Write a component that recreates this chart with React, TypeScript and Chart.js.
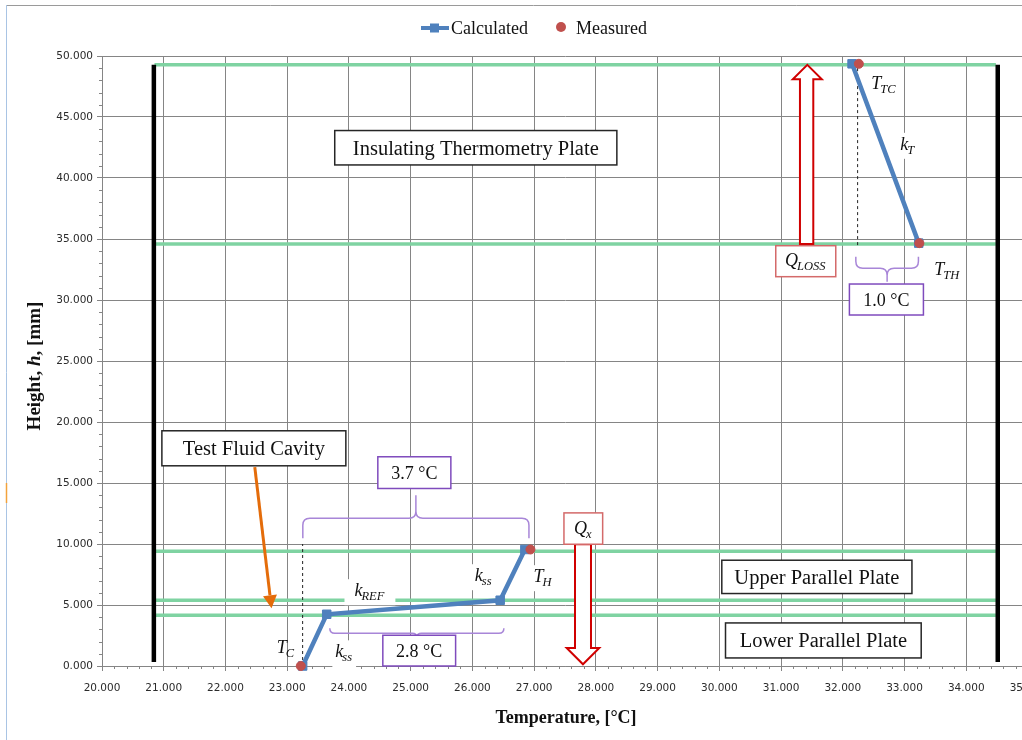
import React, { useEffect, useRef } from "react";
import { Chart, registerables } from "chart.js";

Chart.register(...registerables);

// ---------------- data ----------------
const calculatedTemps = [23.25, 23.64, 26.45, 26.85, NaN, 32.15, 33.23];
const calculatedHeights = [0.0, 4.24, 5.39, 9.55, NaN, 49.36, 34.66];
const measuredTemps = [23.22, 26.94, 32.26, 33.24];
const measuredHeights = [0.0, 9.55, 49.36, 34.66];
const plateHeights = [49.28, 34.59, 9.41, 5.39, 4.16];
const plateTempRange = [20.85, 34.48];
const wallTemps = [20.84, 34.51];
const wallHeightRange = [0.33, 49.28];
const guideTemps = [23.25, 32.24];
const guideHeightRanges = [
  [0.0, 10.0],
  [34.5, 49.28],
];
const xTickValues = [20, 21, 22, 23, 24, 25, 26, 27, 28, 29, 30, 31, 32, 33, 34, 35];
const yTickValues = [0, 5, 10, 15, 20, 25, 30, 35, 40, 45, 50];
const seriesNames = ["Calculated", "Measured"];
const deltaLabels = ["3.7 °C", "2.8 °C", "1.0 °C"];
const regionLabels = [
  "Insulating Thermometry Plate",
  "Test Fluid Cavity",
  "Upper Parallel Plate",
  "Lower Parallel Plate",
];
const symbolLabels = [
  ["T", "TC"],
  ["k", "T"],
  ["T", "TH"],
  ["T", "C"],
  ["k", "ss"],
  ["k", "REF"],
  ["k", "ss"],
  ["T", "H"],
];
const heatLabels = [
  ["Q", "LOSS"],
  ["Q", "x"],
];

// ---------------- annotation layout (data coordinates) ----------------
const regionBoxes = [
  [23.77, 28.34, 43.89, 41.07],
  [20.97, 23.95, 19.28, 16.41],
  [30.04, 33.12, 8.67, 5.94],
  [30.1, 33.27, 3.53, 0.66],
];
const braces = [
  { xa: 23.253, xb: 26.916, yEnd: 10.48, yLine: 12.12, yTip: 14.0, box: [24.468, 25.651, 17.15, 14.55] },
  { xa: 23.69, xb: 26.51, yEnd: 3.09, yLine: 2.68, yTip: 2.3, box: [24.549, 25.728, 2.52, 0.0] },
  { xa: 32.211, xb: 33.225, yEnd: 33.55, yLine: 32.6, yTip: 31.5, box: [32.107, 33.306, 31.31, 28.77] },
];
// [x, baseline y, padX, tall, background]
const symbolPlaces = [
  [32.46, 47.31, 3, false, true],
  [32.93, 42.31, 3, false, true],
  [33.48, 32.05, 3, false, true],
  [22.83, 1.04, 0, false, false],
  [23.78, 0.71, 3, true, true],
  [24.09, 5.72, 10, false, true],
  [26.04, 6.95, 4, false, true],
  [26.99, 6.87, 2, false, true],
];
const heatBoxes = [
  [30.914, 31.886, 34.45, 31.91],
  [27.483, 28.11, 12.55, 9.98],
];
const heatArrows = [
  { shaft: [31.306, 31.522], head: [31.19, 31.66], base: 34.59, neck: 48.1, tip: 49.28 },
  { shaft: [27.662, 27.921], head: [27.527, 28.055], base: 9.98, neck: 1.48, tip: 0.14 },
];
const cavityArrow = { from: [22.475, 16.3], to: [22.746, 4.73] };

// ---------------- styles ----------------
const BLUE = "#4f81bd";
const RED = "#c0504d";
const GREEN = "#7fd3a2";
const GRID = "#858585";
const SERIF = "'Liberation Serif', 'Times New Roman', serif";

function pts(xs: number[], ys: number[]) {
  return xs.map((x, i) => ({ x, y: ys[i] }));
}

function lineDataset(label: string, data: any[], color: string, width: number, dash: number[] = []) {
  return {
    label,
    data,
    showLine: true,
    borderColor: color,
    backgroundColor: color,
    borderWidth: width,
    borderDash: dash,
    pointRadius: 0,
    pointHoverRadius: 0,
    tension: 0,
    fill: false,
  };
}

function drawSymbol(ctx: CanvasRenderingContext2D, x: number, base: number, main: string, sub: string, padX: number, tall: boolean, bg: boolean) {
  ctx.font = `italic 18px ${SERIF}`;
  const w1 = ctx.measureText(main).width;
  ctx.font = `italic 12.5px ${SERIF}`;
  const w2 = ctx.measureText(sub).width;
  const total = w1 + w2;
  if (bg) {
    ctx.fillStyle = "#ffffff";
    ctx.fillRect(x - padX, base - 17, total + 2 * padX, tall ? 33 : 26);
  }
  ctx.fillStyle = "#111";
  ctx.textAlign = "left";
  ctx.textBaseline = "alphabetic";
  ctx.font = `italic 18px ${SERIF}`;
  ctx.fillText(main, x, base);
  ctx.font = `italic 12.5px ${SERIF}`;
  ctx.fillText(sub, x + w1 - 1, base + 4);
}

const annotationPlugin = {
  id: "annotations",
  beforeDraw(chart: any) {
    const ctx = chart.ctx as CanvasRenderingContext2D;
    ctx.save();
    ctx.fillStyle = "#ffffff";
    ctx.fillRect(0, 0, chart.width, chart.height);
    ctx.strokeStyle = "#9a9a9a";
    ctx.lineWidth = 1;
    ctx.beginPath();
    ctx.moveTo(7, 5.5);
    ctx.lineTo(chart.width, 5.5);
    ctx.stroke();
    ctx.strokeStyle = "#a9c4e4";
    ctx.beginPath();
    ctx.moveTo(6.5, 5);
    ctx.lineTo(6.5, chart.height);
    ctx.stroke();
    ctx.strokeStyle = "#f2a33c";
    ctx.lineWidth = 1.5;
    ctx.beginPath();
    ctx.moveTo(6.5, 483);
    ctx.lineTo(6.5, 503);
    ctx.stroke();
    ctx.restore();
  },
  beforeDatasetsDraw(chart: any) {
    const ctx = chart.ctx as CanvasRenderingContext2D;
    const xs = chart.scales.x;
    const ys = chart.scales.y;
    const a = chart.chartArea;
    ctx.save();
    ctx.strokeStyle = GRID;
    ctx.lineWidth = 1;
    ctx.beginPath();
    for (let i = 0; i <= 75; i++) {
      if (i % 5 === 0) continue;
      const v = 20 + i * 0.2;
      const p = Math.round(xs.getPixelForValue(v)) + 0.5;
      ctx.moveTo(p, a.bottom);
      ctx.lineTo(p, a.bottom + 3);
    }
    for (let i = 0; i <= 50; i++) {
      if (i % 5 === 0) continue;
      const p = Math.round(ys.getPixelForValue(i)) + 0.5;
      ctx.moveTo(a.left - 3, p);
      ctx.lineTo(a.left, p);
    }
    ctx.stroke();
    ctx.restore();
  },
  afterDatasetsDraw(chart: any) {
    const ctx = chart.ctx as CanvasRenderingContext2D;
    const X = (v: number) => chart.scales.x.getPixelForValue(v);
    const Y = (v: number) => chart.scales.y.getPixelForValue(v);
    ctx.save();

    // region text boxes
    regionBoxes.forEach((b, i) => {
      const x0 = X(b[0]), x1 = X(b[1]), y0 = Y(b[2]), y1 = Y(b[3]);
      ctx.fillStyle = "#ffffff";
      ctx.fillRect(x0, y0, x1 - x0, y1 - y0);
      ctx.strokeStyle = "#262626";
      ctx.lineWidth = 1.5;
      ctx.strokeRect(x0, y0, x1 - x0, y1 - y0);
      ctx.fillStyle = "#111";
      ctx.font = `20.5px ${SERIF}`;
      ctx.textAlign = "center";
      ctx.textBaseline = "alphabetic";
      ctx.fillText(regionLabels[i], (x0 + x1) / 2, (y0 + y1) / 2 + 7);
    });

    // orange arrow
    {
      const fx = X(cavityArrow.from[0]), fy = Y(cavityArrow.from[1]);
      const tx = X(cavityArrow.to[0]), ty = Y(cavityArrow.to[1]);
      const ang = Math.atan2(ty - fy, tx - fx);
      const hl = 13, hw = 7;
      const bx = tx - hl * Math.cos(ang), by = ty - hl * Math.sin(ang);
      ctx.strokeStyle = "#e46c0a";
      ctx.fillStyle = "#e46c0a";
      ctx.lineWidth = 3;
      ctx.beginPath();
      ctx.moveTo(fx, fy);
      ctx.lineTo(bx, by);
      ctx.stroke();
      ctx.beginPath();
      ctx.moveTo(tx, ty);
      ctx.lineTo(bx + hw * Math.sin(ang), by - hw * Math.cos(ang));
      ctx.lineTo(bx - hw * Math.sin(ang), by + hw * Math.cos(ang));
      ctx.closePath();
      ctx.fill();
    }

    // braces and delta boxes
    braces.forEach((b, i) => {
      const xa = X(b.xa), xb = X(b.xb), yEnd = Y(b.yEnd), yLine = Y(b.yLine), yTip = Y(b.yTip);
      const dir = Math.sign(yTip - yLine);
      const r = Math.min(7, Math.abs(yLine - yEnd));
      const rt = Math.min(7, Math.abs(yTip - yLine));
      const xm = (xa + xb) / 2;
      ctx.strokeStyle = "#a886d8";
      ctx.lineWidth = 1.5;
      ctx.beginPath();
      ctx.moveTo(xa, yEnd);
      ctx.lineTo(xa, yLine - dir * r);
      ctx.quadraticCurveTo(xa, yLine, xa + r, yLine);
      ctx.lineTo(xm - rt, yLine);
      ctx.quadraticCurveTo(xm, yLine, xm, yLine + dir * rt);
      ctx.lineTo(xm, yTip);
      ctx.moveTo(xm, yLine + dir * rt);
      ctx.quadraticCurveTo(xm, yLine, xm + rt, yLine);
      ctx.lineTo(xb - r, yLine);
      ctx.quadraticCurveTo(xb, yLine, xb, yLine - dir * r);
      ctx.lineTo(xb, yEnd);
      ctx.stroke();
      const x0 = X(b.box[0]), x1 = X(b.box[1]), y0 = Y(b.box[2]), y1 = Y(b.box[3]);
      ctx.fillStyle = "#ffffff";
      ctx.fillRect(x0, y0, x1 - x0, y1 - y0);
      ctx.strokeStyle = "#7f4bbd";
      ctx.lineWidth = 1.5;
      ctx.strokeRect(x0, y0, x1 - x0, y1 - y0);
      ctx.fillStyle = "#111";
      ctx.font = `18px ${SERIF}`;
      ctx.textAlign = "center";
      ctx.textBaseline = "alphabetic";
      ctx.fillText(deltaLabels[i], (x0 + x1) / 2, (y0 + y1) / 2 + 6);
    });

    // heat-flow arrows
    heatArrows.forEach((a) => {
      const s0 = X(a.shaft[0]), s1 = X(a.shaft[1]);
      const h0 = X(a.head[0]), h1 = X(a.head[1]);
      const tx = (h0 + h1) / 2;
      const base = Y(a.base), neck = Y(a.neck), tip = Y(a.tip);
      ctx.beginPath();
      ctx.moveTo(s0, base);
      ctx.lineTo(s0, neck);
      ctx.lineTo(h0, neck);
      ctx.lineTo(tx, tip);
      ctx.lineTo(h1, neck);
      ctx.lineTo(s1, neck);
      ctx.lineTo(s1, base);
      ctx.closePath();
      ctx.fillStyle = "#ffffff";
      ctx.fill();
      ctx.strokeStyle = "#d00000";
      ctx.lineWidth = 2;
      ctx.lineJoin = "miter";
      ctx.stroke();
    });

    // heat labels
    heatBoxes.forEach((b, i) => {
      const x0 = X(b[0]), x1 = X(b[1]), y0 = Y(b[2]), y1 = Y(b[3]);
      ctx.fillStyle = "#ffffff";
      ctx.fillRect(x0, y0, x1 - x0, y1 - y0);
      ctx.strokeStyle = "#d46a6a";
      ctx.lineWidth = 1.5;
      ctx.strokeRect(x0, y0, x1 - x0, y1 - y0);
      const [m, s] = heatLabels[i];
      ctx.font = `italic 18px ${SERIF}`;
      const w1 = ctx.measureText(m).width;
      ctx.font = `italic 12.5px ${SERIF}`;
      const w2 = ctx.measureText(s).width;
      const sx = (x0 + x1) / 2 - (w1 + w2) / 2;
      drawSymbol(ctx, sx, (y0 + y1) / 2 + 5, m, s, 0, false, false);
    });

    // symbol labels
    symbolPlaces.forEach((p, i) => {
      const [m, s] = symbolLabels[i];
      drawSymbol(ctx, X(p[0] as number), Y(p[1] as number), m, s, p[2] as number, p[3] as boolean, p[4] as boolean);
    });

    ctx.restore();
  },
  afterDraw(chart: any) {
    const ctx = chart.ctx as CanvasRenderingContext2D;
    const a = chart.chartArea;
    ctx.save();
    // legend
    ctx.strokeStyle = BLUE;
    ctx.lineWidth = 4;
    ctx.beginPath();
    ctx.moveTo(421, 28);
    ctx.lineTo(449, 28);
    ctx.stroke();
    ctx.fillStyle = BLUE;
    ctx.fillRect(430, 23.5, 9, 9);
    ctx.fillStyle = RED;
    ctx.beginPath();
    ctx.arc(561, 27, 5, 0, Math.PI * 2);
    ctx.fill();
    ctx.fillStyle = "#111";
    ctx.font = `18px ${SERIF}`;
    ctx.textAlign = "left";
    ctx.textBaseline = "alphabetic";
    ctx.fillText(seriesNames[0], 451, 34);
    ctx.fillText(seriesNames[1], 576, 34);

    // x axis title
    ctx.font = `bold 18px ${SERIF}`;
    ctx.textAlign = "center";
    ctx.fillText("Temperature, [°C]", 566, 723);

    // y axis title
    const parts: [string, string][] = [
      ["Height, ", `bold 19px ${SERIF}`],
      ["h", `bold italic 19px ${SERIF}`],
      [", [mm]", `bold 19px ${SERIF}`],
    ];
    let total = 0;
    parts.forEach(([t, f]) => {
      ctx.font = f;
      total += ctx.measureText(t).width;
    });
    ctx.translate(40, (a.top + a.bottom) / 2 + 5);
    ctx.rotate(-Math.PI / 2);
    ctx.textAlign = "left";
    let cx = -total / 2;
    parts.forEach(([t, f]) => {
      ctx.font = f;
      ctx.fillText(t, cx, 0);
      cx += ctx.measureText(t).width;
    });
    ctx.restore();
  },
};

export default function App() {
  const canvasRef = useRef<HTMLCanvasElement | null>(null);

  useEffect(() => {
    if (!canvasRef.current) return;
    const datasets: any[] = [
      {
        label: seriesNames[1],
        data: pts(measuredTemps, measuredHeights),
        showLine: false,
        clip: false,
        pointStyle: "circle",
        pointRadius: 4.5,
        pointHoverRadius: 4.5,
        pointBackgroundColor: RED,
        pointBorderColor: RED,
        pointBorderWidth: 1,
      },
      {
        label: seriesNames[0],
        data: pts(calculatedTemps, calculatedHeights),
        showLine: true,
        spanGaps: false,
        clip: false,
        borderColor: BLUE,
        borderWidth: 4.5,
        pointStyle: "rect",
        pointRadius: 6,
        pointHoverRadius: 6,
        pointBackgroundColor: BLUE,
        pointBorderColor: BLUE,
        pointBorderWidth: 1,
        tension: 0,
      },
      ...guideTemps.map((t, i) =>
        lineDataset("guide" + i, guideHeightRanges[i].map((h) => ({ x: t, y: h })), "#222", 1, [3, 3])
      ),
      ...wallTemps.map((t, i) => lineDataset("wall" + i, wallHeightRange.map((h) => ({ x: t, y: h })), "#000", 4.5)),
      ...plateHeights.map((h, i) => lineDataset("plate" + i, plateTempRange.map((t) => ({ x: t, y: h })), GREEN, 3.5)),
    ];

    const chart = new Chart(canvasRef.current, {
      type: "scatter",
      data: { datasets },
      options: {
        responsive: false,
        animation: false,
        devicePixelRatio: 1,
        events: [],
        layout: { padding: { left: 0, top: 56, right: 32, bottom: 0 } },
        plugins: {
          legend: { display: false },
          tooltip: { enabled: false },
        },
        scales: {
          x: {
            type: "linear",
            min: 20,
            max: 35,
            afterBuildTicks: (s: any) => {
              s.ticks = xTickValues.map((v) => ({ value: v }));
            },
            afterFit: (s: any) => {
              s.height = 74;
            },
            ticks: {
              autoSkip: false,
              maxRotation: 0,
              padding: 11,
              color: "#2b2b2b",
              font: { family: "'DejaVu Sans'", size: 10.5 },
              callback: (v: any) => Number(v).toFixed(3),
            },
            grid: { color: GRID, lineWidth: 1, tickLength: 5 },
            border: { color: GRID, width: 1 },
          },
          y: {
            type: "linear",
            min: 0,
            max: 50,
            afterBuildTicks: (s: any) => {
              s.ticks = yTickValues.map((v) => ({ value: v }));
            },
            afterFit: (s: any) => {
              s.width = 102;
            },
            ticks: {
              padding: 4,
              color: "#2b2b2b",
              font: { family: "'DejaVu Sans'", size: 10.5 },
              callback: (v: any) => Number(v).toFixed(3),
            },
            grid: { color: GRID, lineWidth: 1, tickLength: 5 },
            border: { color: GRID, width: 1 },
          },
        },
      },
      plugins: [annotationPlugin],
    } as any);

    return () => chart.destroy();
  }, []);

  return (
    <div
      style={{
        position: "fixed",
        left: 0,
        top: 0,
        width: 1022,
        height: 740,
        overflow: "hidden",
        background: "#fff",
      }}
    >
      <canvas ref={canvasRef} width={1060} height={740} style={{ display: "block", width: 1060, height: 740 }} />
    </div>
  );
}
